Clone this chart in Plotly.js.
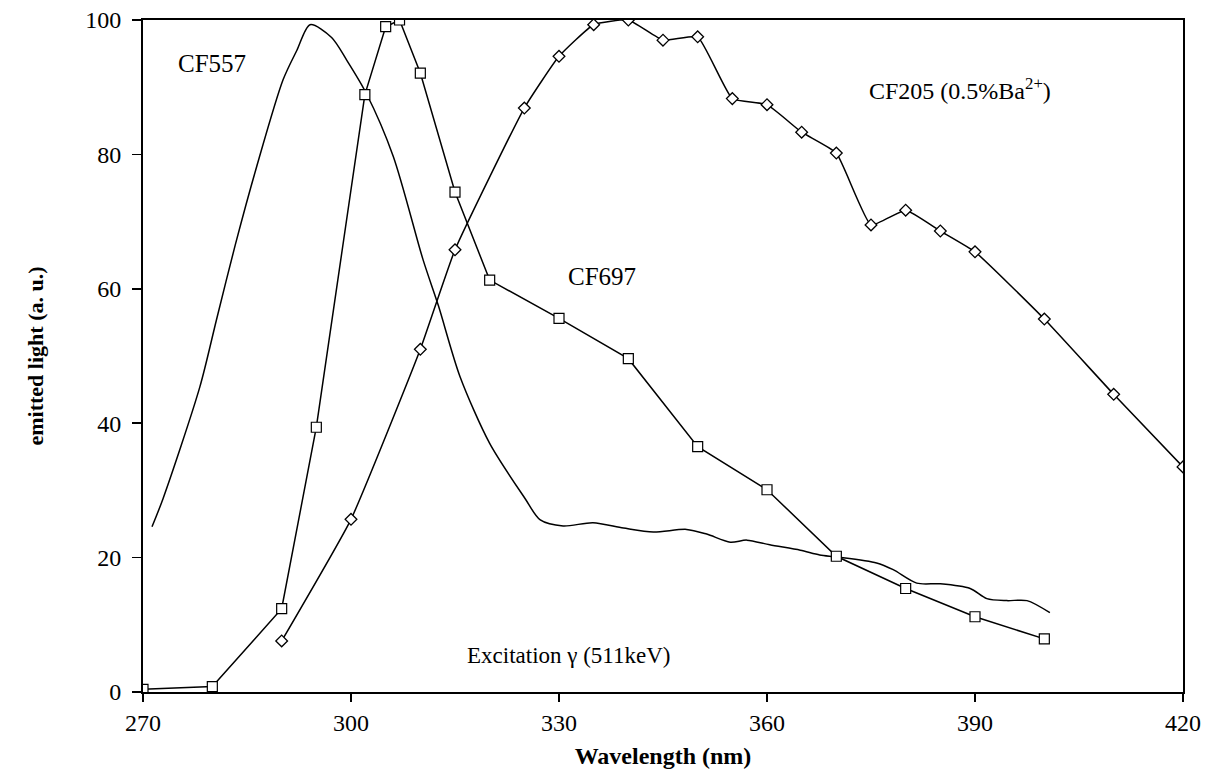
<!DOCTYPE html>
<html>
<head>
<meta charset="utf-8">
<script src="https://cdn.plot.ly/plotly-3.0.1.min.js"></script>
<style>html,body{margin:0;padding:0;background:#fff;}#chart{width:1212px;height:778px;}</style>
</head>
<body>
<div id="chart"></div>
<script>
// CF557: smooth curve without markers
const cf557X = [271.3, 272.9, 278.2, 280.6, 283.3, 286.4, 290.2, 292.2, 294.1, 297.2, 299.4, 302.2, 306.1, 310.4, 312.6, 315.7, 320.0, 325.1, 327.3, 330.6, 334.9, 339.3, 343.6, 348.4, 351.3, 354.7, 357.1, 360.4, 364.8, 367.6, 370.0, 375.8, 378.2, 381.6, 385.0, 389.3, 391.7, 394.6, 397.5, 400.8];
const cf557Y = [24.6, 28.8, 45.4, 55.4, 66.5, 78.2, 91.1, 95.5, 99.3, 97.4, 94.0, 89.1, 79.7, 64.3, 57.5, 47.0, 37.0, 28.8, 25.6, 24.7, 25.2, 24.4, 23.8, 24.2, 23.5, 22.3, 22.6, 21.9, 21.1, 20.4, 20.1, 19.2, 18.2, 16.2, 16.1, 15.4, 13.9, 13.6, 13.6, 11.8];

// CF697: squares
const cf697X = [270, 280, 290, 295, 302, 305, 307, 310, 315, 320, 330, 340, 350, 360, 370, 380, 390, 400];
const cf697Y = [0.4, 0.8, 12.4, 39.4, 88.9, 99.0, 100, 92.1, 74.4, 61.3, 55.6, 49.6, 36.5, 30.1, 20.2, 15.4, 11.2, 7.9];

// CF205 (0.5% Ba2+): diamonds
const cf205X = [290, 300, 310, 315, 325, 330, 335, 340, 345, 350, 355, 360, 365, 370, 375, 380, 385, 390, 400, 410, 420];
const cf205Y = [7.6, 25.7, 51.0, 65.8, 86.9, 94.6, 99.3, 100, 97.0, 97.5, 88.3, 87.4, 83.3, 80.2, 69.5, 71.7, 68.6, 65.5, 55.5, 44.3, 33.5];

const xTicks = [270, 300, 330, 360, 390, 420];
const yTicks = [0, 20, 40, 60, 80, 100];

const labels = [
  {text: 'CF557', x: 280.0, y: 93.6, size: 25},
  {text: 'CF697', x: 336.2, y: 61.8, size: 25},
  {text: 'CF205 (0.5%Ba<sup>2+</sup>)', x: 387.8, y: 89.8, size: 24},
  {text: 'Excitation γ (511keV)', x: 331.4, y: 5.5, size: 23}
];

const serif = 'Liberation Serif, Times New Roman, serif';

const traces = [
  {x: cf557X, y: cf557Y, mode: 'lines', type: 'scatter',
   line: {color: '#000', width: 1.5, shape: 'spline', smoothing: 0.8}},
  {x: cf205X, y: cf205Y, mode: 'lines+markers', type: 'scatter',
   line: {color: '#000', width: 1.5, shape: 'spline', smoothing: 0.4},
   marker: {symbol: 'diamond', size: 9, color: '#fff', line: {color: '#000', width: 1.3}}},
  {x: cf697X, y: cf697Y, mode: 'lines+markers', type: 'scatter',
   line: {color: '#000', width: 1.5},
   marker: {symbol: 'square', size: 10, color: '#fff', line: {color: '#000', width: 1.2}}}
];

const layout = {
  width: 1212, height: 778,
  margin: {l: 143, r: 29, t: 20, b: 86},
  paper_bgcolor: '#fff', plot_bgcolor: '#fff',
  showlegend: false,
  font: {family: serif, color: '#000'},
  xaxis: {
    range: [270, 420], tickvals: xTicks, ticktext: xTicks.map(String),
    showgrid: false, zeroline: false,
    showline: true, linecolor: '#000', linewidth: 2, mirror: true,
    ticks: 'outside', ticklen: 8, tickwidth: 1.5, tickcolor: '#000',
    tickfont: {family: serif, size: 24, color: '#000'},
    title: {text: '<b>Wavelength (nm)</b>', font: {family: serif, size: 24, color: '#000'}, standoff: 12}
  },
  yaxis: {
    range: [0, 100], tickvals: yTicks, ticktext: yTicks.map(String),
    showgrid: false, zeroline: false,
    showline: true, linecolor: '#000', linewidth: 2, mirror: true,
    ticks: 'outside', ticklen: 9, tickwidth: 1.5, tickcolor: '#000',
    ticklabelstandoff: 6,
    tickfont: {family: serif, size: 24, color: '#000'},
    title: {text: '<b>emitted light (a. u.)</b>', font: {family: serif, size: 22, color: '#000'}, standoff: 36}
  },
  annotations: labels.map(l => ({
    x: l.x, y: l.y, xref: 'x', yref: 'y', text: l.text, showarrow: false,
    font: {family: serif, size: l.size, color: '#000'}
  }))
};

Plotly.newPlot('chart', traces, layout, {displayModeBar: false, staticPlot: true});
</script>
</body>
</html>
